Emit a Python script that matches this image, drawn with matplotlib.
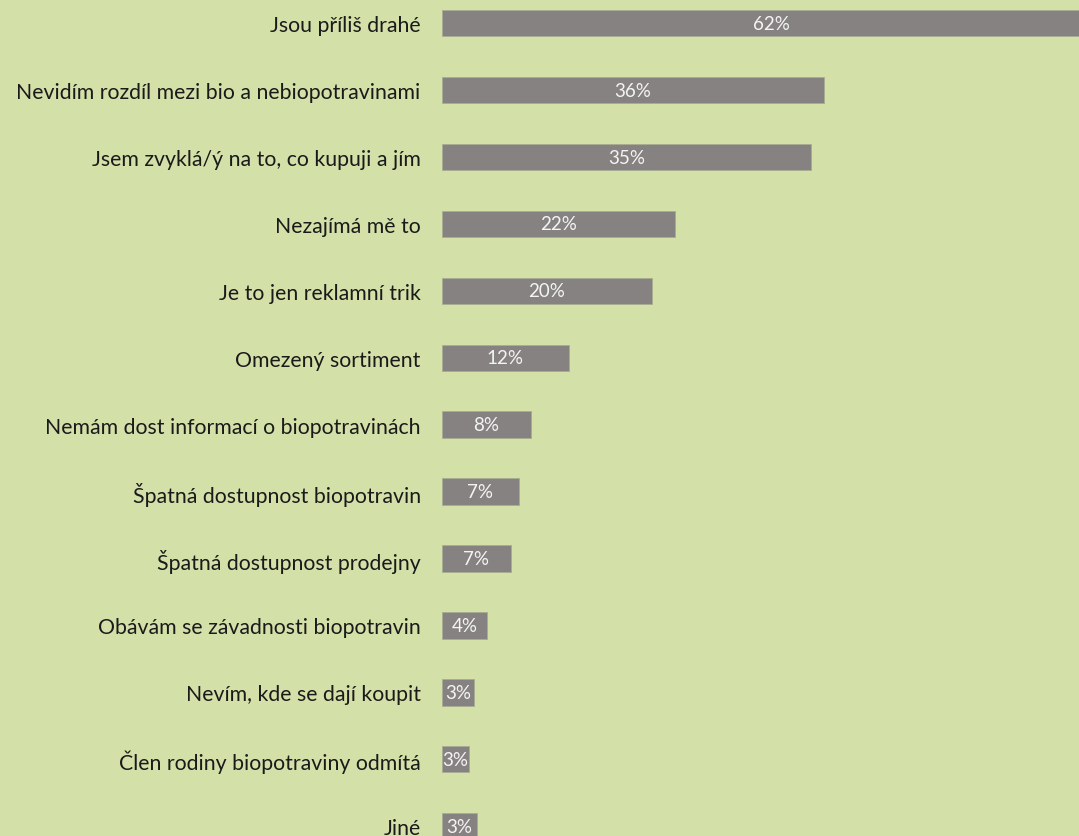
import matplotlib.pyplot as plt

plt.rcParams['font.family'] = ['Lato', 'DejaVu Sans']

reasons = ["Jsou příliš drahé",
           "Nevidím rozdíl mezi bio a nebiopotravinami",
           "Jsem zvyklá/ý na to, co kupuji a jím",
           "Nezajímá mě to",
           "Je to jen reklamní trik",
           "Omezený sortiment",
           "Nemám dost informací o biopotravinách",
           "Špatná dostupnost biopotravin",
           "Špatná dostupnost prodejny",
           "Obávám se závadnosti biopotravin",
           "Nevím, kde se dají koupit",
           "Člen rodiny biopotraviny odmítá",
           "Jiné"]
shares = [62.1, 36.0, 34.8, 22.0, 19.8, 12.0, 8.4, 7.3, 6.5, 4.3, 3.1, 2.6, 3.3]
labels = ["62%", "36%", "35%", "22%", "20%", "12%", "8%", "7%", "7%", "4%", "3%", "3%", "3%"]

bg = '#d3e0a8'
bar_col = '#878282'

fig = plt.figure(figsize=(10.79, 8.37), dpi=100, facecolor=bg)
ax = fig.add_axes([441.5 / 1079, 0, 1 - 441.5 / 1079, 1])
ax.set_facecolor(bg)

ypos = list(range(len(reasons)))
ax.barh(ypos, shares, height=0.395, color=bar_col, edgecolor='#a8ac90', linewidth=0.6)
for y, v, lab in zip(ypos, shares, labels):
    ax.text(v / 2, y, lab, ha='center', va='center', color='#f4f4f4', fontsize=13.5)

ax.set_xlim(0, (1079 - 441.5) / 10.625)
ax.set_ylim(12 + (837 - 827.2) / 66.9, -24.2 / 66.9)
ax.set_yticks(ypos)
ax.set_yticklabels(reasons, fontsize=15.3, color='#1a1a1a')
ax.tick_params(axis='y', length=0, pad=15)
ax.set_xticks([])
for s in ax.spines.values():
    s.set_visible(False)

fig.savefig('out.png', dpi=100, facecolor=bg)
